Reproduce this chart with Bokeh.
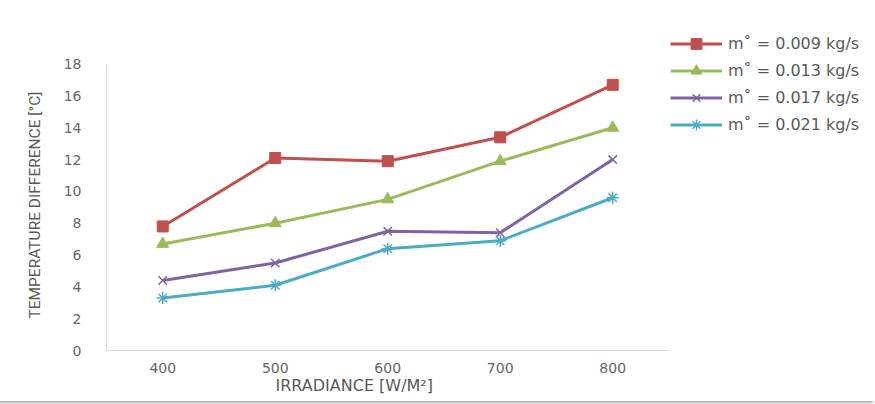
from bokeh.plotting import figure
from bokeh.models import Range1d, FixedTicker, Legend, LegendItem, Title
from bokeh.embed import file_html
from bokeh.resources import INLINE

irradiance = [400, 500, 600, 700, 800]
m009 = [7.8, 12.1, 11.9, 13.4, 16.7]
m013 = [6.7, 8.0, 9.5, 11.9, 14.0]
m017 = [4.4, 5.5, 7.5, 7.4, 12.0]
m021 = [3.3, 4.1, 6.4, 6.9, 9.6]
series_labels = ["m˚ = 0.009 kg/s", "m˚ = 0.013 kg/s", "m˚ = 0.017 kg/s", "m˚ = 0.021 kg/s"]
y_ticks = [0, 2, 4, 6, 8, 10, 12, 14, 16, 18]
x_ticks = [400, 500, 600, 700, 800]
x_label = "IRRADIANCE [W/M²]"
y_label = "TEMPERATURE DIFFERENCE [°C]"

# axis spans 350..850 and 0..18; frame is widened so the legend can sit beside it
p = figure(width=875, height=401, output_backend="svg", toolbar_location=None,
           x_range=Range1d(350, 1033.6), y_range=Range1d(0, 22.0),
           min_border_left=106, min_border_right=0, min_border_top=0, min_border_bottom=51)
p.styles = {"box-shadow": "-2px 2px 3px rgba(0,0,0,0.35)"}
p.outline_line_color = None
p.grid.grid_line_color = None

for ax in (p.xaxis, p.yaxis):
    ax.axis_line_color = "#d9d9d9"
    ax.major_tick_line_color = None
    ax.minor_tick_line_color = None
    ax.major_label_text_color = "#666666"
    ax.major_label_text_font = "DejaVu Sans"
    ax.major_label_text_font_size = "14px"

p.xaxis.bounds = (350, 850)
p.yaxis.bounds = (0, 18)
p.xaxis.ticker = FixedTicker(ticks=x_ticks)
p.yaxis.ticker = FixedTicker(ticks=y_ticks)
p.xaxis.major_label_standoff = 6
p.yaxis.major_label_standoff = 19

yt = Title(text=y_label, align="left", offset=32, vertical_align="top", standoff=30,
           text_font="Roboto", text_font_size="15.5px", text_font_style="normal",
           text_color="#595959")
p.add_layout(yt, "left")
xt = Title(text=x_label, align="left", offset=169, vertical_align="top", standoff=0,
           text_font="DejaVu Sans", text_font_size="16px", text_font_style="normal",
           text_color="#595959")
p.add_layout(xt, "below")

colors = ["#C0504D", "#9BBB59", "#8064A2", "#4BACC6"]
markers = ["square", "triangle", "x", "asterisk"]
sizes = [11, 12, 12, 12]
data = [m009, m013, m017, m021]

items = []
for vals, c, mk, sz, lab in zip(data, colors, markers, sizes, series_labels):
    r1 = p.line(irradiance, vals, line_color=c, line_width=3)
    if mk in ("x", "asterisk"):
        r2 = p.scatter(irradiance, vals, marker=mk, size=sz, line_color=c, line_width=1.5)
    else:
        r2 = p.scatter(irradiance, vals, marker=mk, size=sz, fill_color=c, line_color=c)
    items.append(LegendItem(label=lab, renderers=[r1, r2]))

legend = Legend(items=items, location=(564, 212), orientation="vertical",
                background_fill_alpha=0, border_line_color=None,
                glyph_width=52, glyph_height=27, label_height=27, spacing=0,
                padding=0, margin=0, label_standoff=6,
                label_text_font="DejaVu Sans", label_text_font_size="16px",
                label_text_color="#595959")
p.add_layout(legend, "center")

open("out.html", "w").write(file_html(p, INLINE))
